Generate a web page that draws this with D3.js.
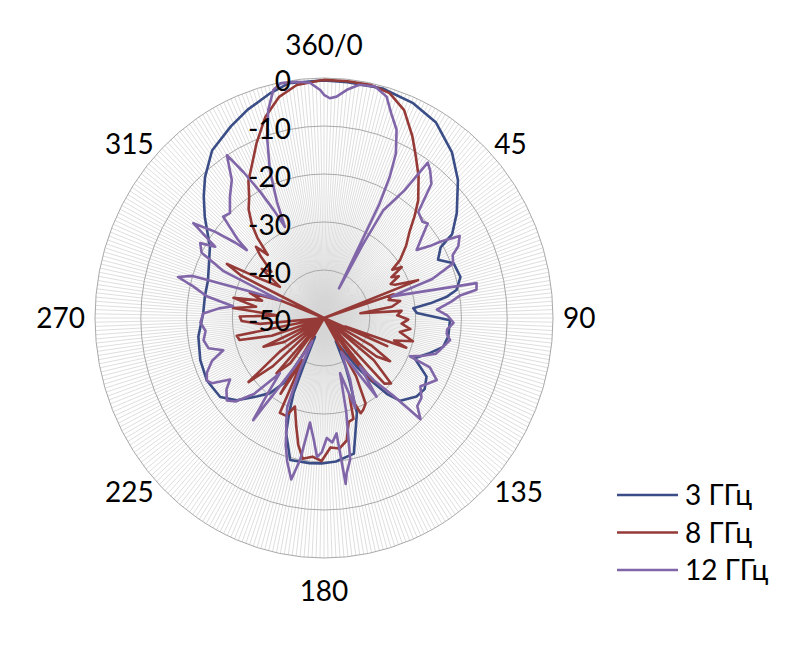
<!DOCTYPE html>
<html><head><meta charset="utf-8">
<script src="https://cdn.jsdelivr.net/npm/d3@7"></script>
<style>body{margin:0;background:#fff}svg{display:block}</style>
</head><body>
<svg id="chart" width="800" height="648"></svg>
<script>
// ---- data ----
const angleTicks = [0, 45, 90, 135, 180, 225, 270, 315];
const angleTickLabels = ["360/0", "45", "90", "135", "180", "225", "270", "315"];
const dbTicks = [0, -10, -20, -30, -40, -50];
const seriesNames = ["3 ГГц", "8 ГГц", "12 ГГц"];
const seriesColors = ["#3b4d86", "#953a37", "#8066a8"];

// [angle in degrees, level in dB]
const s3GHz = [[0,-0.5],[6,-0.6],[15,-0.5],[23.5,-1.2],[31,-2.5],[39,-5.6],[45.5,-9],[53,-13.7],[58,-17],[60,-20.6],[64,-22.3],[68,-19.5],[74,-19],[78.6,-20.5],[80.6,-22.8],[82.5,-26.6],[84,-30.4],[87,-29.7],[89.4,-26],[91,-22.5],[98,-22.6],[103,-23.3],[108,-26],[113,-28.5],[118.6,-24.5],[124,-23.5],[129,-24],[136,-26],[139,-29],[142,-33.6],[145,-37.6],[148,-42],[152,-44.5],[155,-39],[157,-35.7],[160,-29],[167,-21],[175,-20],[181,-19.7],[186,-19.6],[194,-19.5],[199,-24.6],[201,-28.7],[203,-33],[204,-38.9],[206.6,-45.6],[213,-33.8],[217,-30.4],[222,-28],[228,-24.4],[234,-22],[243,-21.3],[252,-21.6],[262,-22.3],[272,-23.6],[280,-23.6],[287,-23.5],[294,-22.5],[300.8,-21],[309,-16.5],[314,-13.5],[318.5,-10.8],[325,-7.4],[333,-5.2],[339,-3.5],[346,-1.7],[351,-0.5],[357,-0.6]];

const s8GHz = [[0,-0.4],[6,-0.4],[12,-0.4],[17,-1],[22,-3.3],[27,-7.5],[31,-11],[35,-14],[40,-18],[43,-21],[46,-24],[50,-26.6],[54,-29.5],[56,-32],[58,-30],[60,-33],[62,-31.5],[64,-33.8],[66,-33],[69,-28],[70.5,-50],[72,-34],[75,-35.4],[78,-33],[81,-35],[83,-42],[85,-33],[88,-34],[91,-31.6],[94,-33],[97,-31],[100,-33.2],[104,-30],[107,-34],[109,-31],[111,-45],[113,-35],[116,-50],[119,-38],[122,-33],[125,-36],[127,-50],[129,-36],[133,-30],[136,-31],[138,-50],[141,-33],[144,-40],[147,-50],[150,-36],[153,-30],[156,-29],[158,-28.6],[161,-33],[163,-28],[166,-27.7],[169,-24],[173,-22.6],[177,-23],[181,-20.2],[185,-21],[189,-20.3],[192,-23],[195,-26.6],[199,-30.5],[202,-28],[206,-28],[208,-40],[211,-31.6],[214,-50],[218,-38],[222,-34.5],[225,-50],[228,-35],[231,-28.8],[234,-38],[237,-50],[240,-40],[245.6,-35.5],[248,-50],[252,-38],[256,-31],[259,-30.6],[262,-50],[265,-36],[268,-32],[271,-31.6],[273,-40],[276,-30],[279,-35],[282,-29.8],[285,-36],[288,-33],[291,-40],[294,-50],[296,-30],[298,-26],[300,-33],[304,-38.4],[307,-33],[310,-35],[313,-31],[315,-29],[317,-32],[319,-27.8],[321,-25],[324,-22],[327,-20],[330,-17],[333,-15],[338,-10.7],[343,-6.2],[348,-2.9],[353,-1.1],[359,-0.5]];

const s12GHz = [[0,-3.5],[1.6,-4.2],[3.4,-3.8],[6,-2.2],[9,-0.8],[13,-0.5],[16.5,-1.9],[19,-4.9],[22,-7.7],[24.6,-12.3],[26,-17.2],[27,-23.5],[28,-43],[29,-32.6],[30,-24],[32,-21],[33.5,-18],[35,-10.5],[37,-11.5],[40,-13.5],[43,-19.8],[47,-20.6],[49,-20],[52,-23],[55,-25.3],[57,-22.5],[58,-19.9],[60,-15.8],[63,-17.1],[65,-19],[68,-19.6],[71,-25],[73,-34.6],[75,-30],[77.7,-15.9],[80,-16.2],[81,-19.9],[83,-22],[86,-25.3],[89,-23],[92,-21.7],[95,-23],[97,-23],[99.5,-22.1],[102,-23],[104.7,-23.8],[107,-24.5],[110,-27],[113,-29.6],[114,-24.7],[117.7,-22.2],[121,-23.5],[124,-24.6],[128,-23],[132,-22.6],[135,-20.2],[137,-28],[140,-33],[142,-37.2],[145,-30],[148,-38],[152,-42],[156,-36],[160,-30],[163,-38],[166,-30],[169,-20],[171.3,-17.3],[172.2,-15.1],[173.5,-25.8],[176,-24],[178.6,-25],[181,-22],[183,-21],[185,-24.5],[188,-28],[190,-20],[192,-15.6],[193,-16.8],[195,-19],[197.5,-22.2],[199,-24.7],[201,-27],[203.4,-29.8],[206,-38],[208,-44.6],[212,-38],[216,-23.7],[218,-30],[220,-35],[224,-28],[228,-24],[231,-22.7],[235,-24],[238,-25.8],[241,-22],[243,-21.3],[246,-22],[250,-24],[253,-27],[256,-24],[260,-23.3],[264,-24],[268,-23],[272,-23.6],[275,-27],[277,-30],[280,-24],[283,-20.7],[285,-17],[287,-20],[289,-33],[291,-39.7],[294,-26],[297,-20],[300,-18.8],[302,-22],[304.7,-15.3],[307,-20],[309,-25],[310,-28],[311,-25],[313.8,-19.5],[316.8,-20],[320.8,-17.5],[325,-14.9],[328,-10],[330,-15],[332,-20],[334,-25],[335.8,-29.2],[337,-23.7],[339,-17],[341.8,-10.2],[344.3,-5],[346.9,-1.2],[349,-0.2],[353,-0.4],[356.4,-0.9],[359,-2.5]];

const seriesData = [s3GHz, s8GHz, s12GHz];

// ---- layout ----
const cx = 324, cy = 318, R = 240, kx = 229 / 240;
const FONT = "Lato, 'Open Sans', sans-serif";
const FS = 28;
const svg = d3.select("#chart");

const rScale = d3.scaleLinear().domain([-50, 0]).range([0, R]).clamp(true);
const aScale = d3.scaleLinear().domain([0, 360]).range([0, 2 * Math.PI]);

const plot = svg.append("g").attr("transform", `translate(${cx},${cy}) scale(${kx},1)`);

// spokes (one per degree)
plot.append("g").selectAll("line").data(d3.range(0, 360, 1)).join("line")
  .attr("x1", 0).attr("y1", 0)
  .attr("x2", d => R * Math.sin(aScale(d)))
  .attr("y2", d => -R * Math.cos(aScale(d)))
  .attr("stroke", "#d6d6d6").attr("stroke-width", 0.8)
  .attr("vector-effect", "non-scaling-stroke");

// rings
plot.append("g").selectAll("circle").data(dbTicks.filter(d => d > -50)).join("circle")
  .attr("r", d => rScale(d)).attr("fill", "none")
  .attr("stroke", "#a9a9a9").attr("stroke-width", 1)
  .attr("vector-effect", "non-scaling-stroke");

// series
const radial = d3.lineRadial()
  .angle(d => aScale(d[0]))
  .radius(d => rScale(d[1]))
  .curve(d3.curveLinearClosed);

plot.append("g").selectAll("path").data(seriesData).join("path")
  .attr("d", radial)
  .attr("fill", "none")
  .attr("stroke", (d, i) => seriesColors[i])
  .attr("stroke-width", 2.6)
  .attr("stroke-linejoin", "round")
  .attr("vector-effect", "non-scaling-stroke");

// radial value labels
svg.append("g").selectAll("text").data(dbTicks).join("text")
  .attr("x", 291)
  .attr("y", d => cy - rScale(d) + 13)
  .attr("text-anchor", "end")
  .attr("font-family", FONT).attr("font-size", FS).attr("fill", "#000")
  .text(d => d);

// angle labels, placed just outside the outer ring
const angG = svg.append("g");
angleTicks.forEach((d, i) => {
  const t = angG.append("text")
    .attr("font-family", FONT).attr("font-size", FS).attr("fill", "#000")
    .attr("text-anchor", "middle")
    .text(angleTickLabels[i]);
  const hw = t.node().getComputedTextLength() / 2;
  const s = Math.sin(aScale(d)), c = Math.cos(aScale(d));
  let x = cx + (R * kx + 6) * s;
  let y = cy - (R + 6) * c;
  if (Math.abs(s) > 0.1) x += Math.sign(s) * (hw + 4);
  if (Math.abs(s) < 0.1) y -= Math.sign(c) * 27;
  t.attr("x", x).attr("y", y + 10);
});

// legend
const lg = svg.append("g").selectAll("g").data(seriesNames).join("g")
  .attr("transform", (d, i) => `translate(617,${495 + i * 37.5})`);
lg.append("line").attr("x1", 0).attr("x2", 61).attr("y1", 0).attr("y2", 0)
  .attr("stroke", (d, i) => seriesColors[i]).attr("stroke-width", 2.6);
lg.append("text").attr("x", 68).attr("y", 10)
  .attr("font-family", FONT).attr("font-size", FS).attr("fill", "#000")
  .text(d => d);
</script>
</body></html>
